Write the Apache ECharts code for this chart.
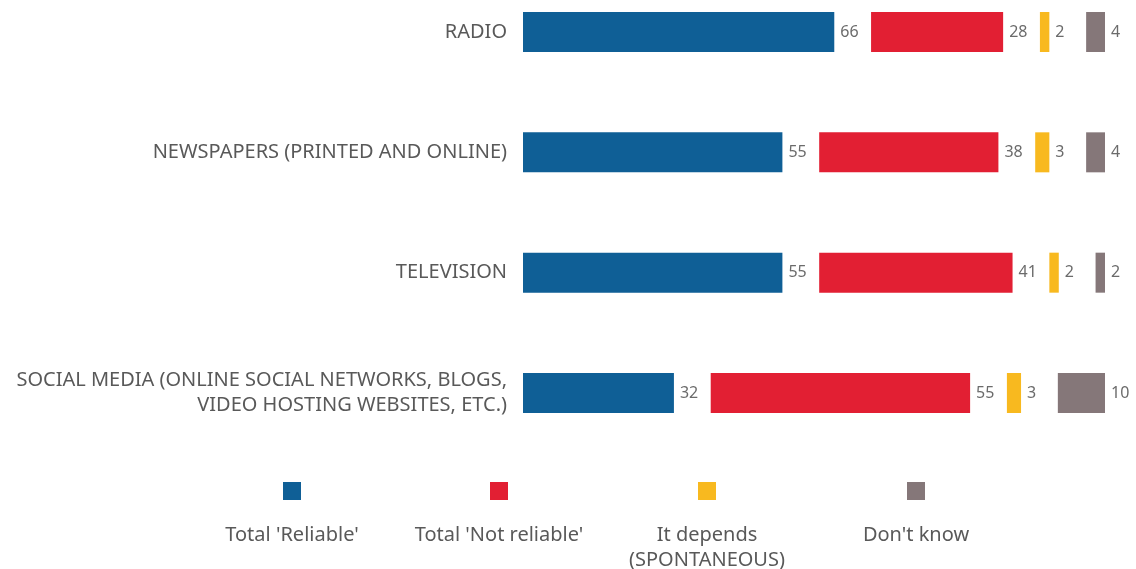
<!DOCTYPE html>
<html>
<head>
<meta charset="utf-8">
<script src="https://cdn.jsdelivr.net/npm/echarts@6/dist/echarts.min.js"></script>
<style>
  html, body { margin: 0; padding: 0; background: #fff; }
  #chart { width: 1136px; height: 569px; }
</style>
</head>
<body>
<div id="chart"></div>
<script>
// Media sources, top to bottom
const categories = [
  'RADIO',
  'NEWSPAPERS (PRINTED AND ONLINE)',
  'TELEVISION',
  'SOCIAL MEDIA (ONLINE SOCIAL NETWORKS, BLOGS,\nVIDEO HOSTING WEBSITES, ETC.)'
];

// Answer shares (%)
const reliable    = [66, 55, 55, 32];
const notReliable = [28, 38, 41, 55];
const itDepends   = [2, 3, 2, 3];
const dontKnow    = [4, 4, 2, 10];

const seriesNames = ["Total 'Reliable'", "Total 'Not reliable'", 'It depends (SPONTANEOUS)', "Don't know"];
const legendLabels = ["Total 'Reliable'", "Total 'Not reliable'", 'It depends\n(SPONTANEOUS)', "Don't know"];
const colors = ['#0f5f96', '#e21f33', '#f8b91f', '#857779'];

// Blank space between segments, in axis units (room for each value label)
const GAP = 7.8;
const gapData = categories.map(() => GAP);

const FONT = '"Noto Sans", "Open Sans", sans-serif';

function segment(name, data, color) {
  return {
    name: name,
    type: 'bar',
    stack: 'total',
    data: data,
    barWidth: 40,
    itemStyle: { color: color },
    label: {
      show: true,
      position: 'right',
      distance: 6,
      color: '#6b6b6b',
      fontSize: 16,
      fontFamily: FONT
    },
    emphasis: { disabled: true }
  };
}

function spacer() {
  return {
    type: 'bar',
    stack: 'total',
    data: gapData,
    barWidth: 40,
    itemStyle: { color: 'rgba(0,0,0,0)' },
    silent: true,
    tooltip: { show: false },
    emphasis: { disabled: true }
  };
}

const values = [reliable, notReliable, itDepends, dontKnow];
const series = [];
values.forEach((v, i) => {
  if (i > 0) series.push(spacer());
  series.push(segment(seriesNames[i], v, colors[i]));
});

// One legend square per answer; the captions sit centred beneath them
const legendX = [283, 490, 698, 907];
const legends = seriesNames.map((n, i) => ({
  data: [n],
  left: legendX[i],
  top: 482,
  padding: 0,
  icon: 'rect',
  itemWidth: 18,
  itemHeight: 18,
  selectedMode: false,
  formatter: () => '',
  textStyle: { fontSize: 1 }
}));

const legendText = legendLabels.map((t, i) => ({
  type: 'text',
  x: legendX[i] + 9,
  y: 523,
  style: {
    text: t,
    textAlign: 'center',
    fill: '#595959',
    font: '20px ' + FONT,
    lineHeight: 25
  }
}));

const chart = echarts.init(document.getElementById('chart'), null, { renderer: 'canvas' });
chart.setOption({
  backgroundColor: '#ffffff',
  animation: false,
  grid: { left: 523, top: 32, width: 582, height: 361, containLabel: false },
  xAxis: {
    type: 'value',
    min: 0,
    max: 100 + 3 * GAP,
    show: false
  },
  yAxis: {
    type: 'category',
    data: categories,
    inverse: true,
    boundaryGap: false,
    axisLine: { show: false },
    axisTick: { show: false },
    splitLine: { show: false },
    axisLabel: {
      color: '#595959',
      fontSize: 20,
      fontFamily: FONT,
      margin: 16,
      lineHeight: 25,
      align: 'right'
    }
  },
  legend: legends,
  graphic: legendText,
  series: series
});
</script>
</body>
</html>
